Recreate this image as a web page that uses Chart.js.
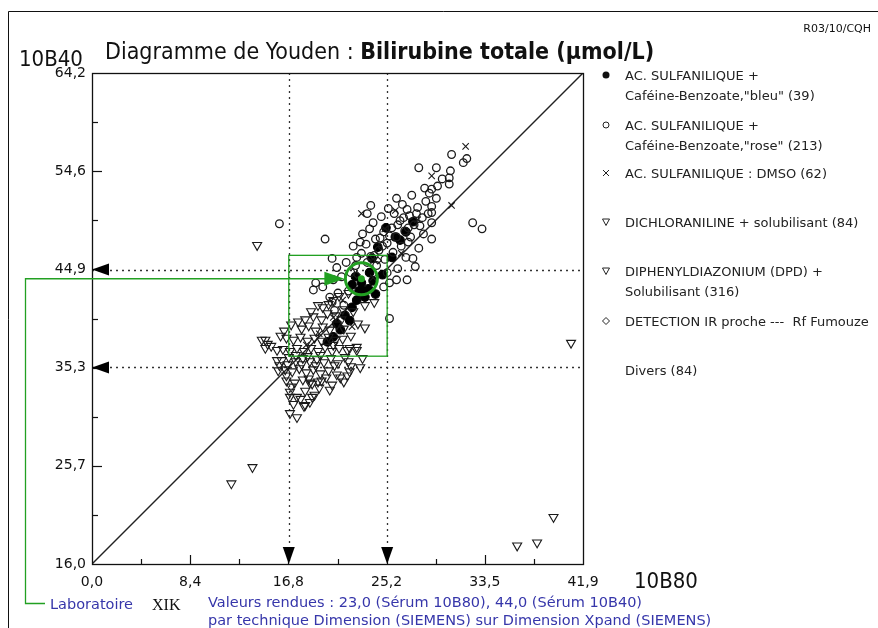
<!DOCTYPE html>
<html>
<head>
<meta charset="utf-8">
<script src="https://cdn.jsdelivr.net/npm/chart.js@4.4.0/dist/chart.umd.min.js"></script>
<style>
  html, body { margin: 0; padding: 0; background: #fff; }
  canvas { display: block; }
</style>
</head>
<body>
<canvas id="youden" width="878" height="628"></canvas>
<script>
// axes
const X_MIN = 0, X_MAX = 41.92, Y_MIN = 16.0, Y_MAX = 64.2;
const xTickLabels = ['0,0', '8,4', '16,8', '25,2', '33,5', '41,9'];
const yTickLabels = ['16,0', '25,7', '35,3', '44,9', '54,6', '64,2'];

// limites (pointillés) et valeurs du laboratoire
const xLimits = [16.8, 25.2];
const yLimits = [35.3, 44.9];
const labValue = [23.0, 44.0];
const labBoxX = [16.8, 25.2];
const labBoxY = [36.4, 46.3];

// AC. SULFANILIQUE + Caféine-Benzoate "bleu"
const bleuPts = [
  [27.4,49.6],[25.9,48.1],[25.6,46.1],[23.9,46.0],[23.7,44.6],[24.4,47.1],[26.3,47.8],
  [26.8,48.6],[24.8,44.4],[23.0,42.9],[22.6,41.9],[22.2,41.2],[21.6,40.4],[21.2,39.0],
  [22.0,39.9],[20.6,38.3],[20.1,37.8],[22.5,44.2],[23.0,43.6],[23.6,43.0],[24.0,43.8],
  [22.8,42.8],[23.3,42.2],[24.2,42.5],[22.2,43.4],[25.1,49.0],[20.9,39.6]
];

// AC. SULFANILIQUE + Caféine-Benzoate "rose"
const rosePts = [
  [16.0,49.4],[19.9,47.9],[20.5,46.0],[19.1,43.6],[18.9,42.9],[19.7,43.2],[25.4,40.1],
  [33.3,48.9],[32.5,49.5],[30.7,56.2],[32.0,55.8],[31.7,55.4],[27.9,54.9],[29.4,54.9],
  [29.9,53.8],[30.6,54.6],[30.5,53.9],[30.5,53.3],[29.0,52.8],[29.0,51.1],[29.0,50.5],
  [28.7,50.4],[29.0,49.5],[29.0,47.9],[27.9,47.0],[27.4,46.0],[26.9,50.8],[25.3,50.9],
  [26.0,51.9],[23.5,50.4],
  [23.0,46.5],[23.4,47.4],[23.8,46.2],[24.2,47.9],[24.5,46.8],[24.9,48.6],[25.2,47.5],
  [25.6,49.0],[26.0,48.1],[26.3,49.7],[26.7,48.7],[27.1,50.2],[27.5,49.3],[27.8,51.0],
  [28.2,50.0],[28.5,51.6],[22.5,45.3],[22.1,44.6],[21.7,45.6],[21.3,44.2],[20.9,45.1],
  [20.6,43.9],[21.9,42.8],[24.3,45.3],[25.0,45.9],[25.7,46.6],[26.4,47.2],[27.0,47.6],
  [25.2,44.6],[26.0,43.9],[26.9,43.9],[25.4,43.6],[26.1,45.0],[26.8,46.1],[21.0,42.6],
  [20.3,42.2],[22.3,47.2],[23.1,48.4],[24.0,49.5],[24.7,50.1],[26.5,51.3],[27.3,52.2],
  [28.8,52.4],[29.5,53.1],[24.9,43.2],[21.5,41.4],[20.7,40.9],[20.5,41.7],[22.6,46.1],
  [24.1,46.3],[28.3,48.4],[27.6,45.2],[23.8,51.2],[29.4,51.9],
  [24.6,48.0],[25.4,48.2],[26.1,49.3],[27.0,49.0],[27.7,50.4],[28.0,49.2],[23.5,45.6],
  [24.8,47.2],[26.6,50.0],[25.8,50.4],[28.4,52.9],[22.9,47.6],[23.7,48.9],[27.2,48.1]
];

// AC. SULFANILIQUE : DMSO
const dmsoPts = [
  [31.9,57.0],[29.0,54.1],[30.7,51.2],[25.9,50.7],[23.0,50.4],[22.2,39.3],[24.0,44.1],
  [26.4,46.5],[21.4,41.9],[27.8,49.8],[19.4,38.6],[20.6,40.2],[25.0,48.9],[18.3,37.5]
];

// DICHLORANILINE + solubilisant
const dichloroPts = [
  [14.1,47.3],[13.7,25.5],[11.9,23.9],[40.9,37.7],[39.4,20.6],[38.0,18.1],[36.3,17.8],
  [14.5,38.0],[14.8,38.0],[14.8,37.2],[15.8,37.0],[15.8,36.0],[15.9,35.0],[16.6,34.5],
  [18.6,33.8],[19.4,33.3],[17.8,32.2],[21.2,34.3],[22.1,35.4],[16.9,30.8],[17.5,30.4],
  [18.2,31.6],[18.8,32.4],[16.9,32.4]
];

// DIPHENYLDIAZONIUM (DPD) + Solubilisant
const dpdPts = [
  [18.9,40.3],[19.6,40.0],[20.1,40.6],[20.8,40.4],[21.3,40.0],
  [17.9,39.1],[18.5,39.4],[19.1,38.9],[19.7,39.3],[20.3,39.0],[20.9,39.5],[21.5,39.1],
  [16.6,38.2],[17.2,38.0],[17.8,38.3],[18.4,37.9],[19.0,38.2],[19.6,37.9],[20.2,38.3],
  [20.8,38.0],[21.4,38.1],[22.1,38.4],
  [16.3,37.1],[16.9,36.9],[17.5,37.2],[18.1,36.9],[18.7,37.2],[19.3,36.9],[19.9,37.3],
  [20.5,36.9],[21.1,37.2],[21.8,37.0],[22.6,37.3],
  [16.2,36.0],[16.8,36.3],[17.4,35.9],[18.0,36.2],[18.6,35.9],[19.2,36.1],[19.8,35.8],
  [20.4,36.2],[21.0,35.7],[21.9,35.9],[23.1,36.2],
  [16.5,35.1],[17.1,34.9],[17.7,35.2],[18.3,34.8],[18.9,35.1],[19.5,34.7],[20.2,35.0],
  [20.9,34.6],[22.0,34.9],[22.9,35.3],
  [16.6,34.0],[17.3,33.8],[18.0,34.1],[18.8,33.7],[19.6,34.0],[20.5,33.6],[21.5,33.9],
  [16.9,32.9],[17.5,32.4],[18.2,33.0],[19.0,32.6],[20.3,33.1],
  [17.2,31.7],[18.1,31.5],[18.6,31.9],
  [15.0,37.6],[15.3,37.4],[16.0,35.5],
  [19.7,41.2],[20.2,41.5],[20.6,41.9],[21.1,42.3],[21.4,41.0],[21.9,42.6],[22.3,40.8],
  [22.7,39.6],[23.3,39.2],[24.1,41.7],[23.3,41.4],[21.8,34.5],[22.6,37.0],[22.0,37.2],
  [17.0,39.5],[17.6,39.8],[18.2,40.0],[18.7,40.8],[19.3,41.4],[16.4,38.9],[16.1,38.4],
  [17.4,36.5],[18.4,36.4],[19.5,36.5],[20.6,37.5],[17.9,35.6],[19.1,35.5],[20.0,34.3],
  [16.7,35.6],[17.0,33.4],[18.5,34.2],[21.6,36.3],[20.7,35.5],[19.3,33.9]
];

// DETECTION IR proche
const irPts = [[22.6,44.4],[24.4,45.8]];

const toXY = pts => pts.map(p => ({ x: p[0], y: p[1] }));
const GREEN = '#22a022';
const BLUE = '#3636aa';

function tri(ctx, a, b, c) {
  ctx.beginPath();
  ctx.moveTo(a[0], a[1]);
  ctx.lineTo(b[0], b[1]);
  ctx.lineTo(c[0], c[1]);
  ctx.closePath();
  ctx.fill();
}

// pointillés sous les points
const guides = {
  id: 'guides',
  beforeDatasetsDraw(chart) {
    const ctx = chart.ctx, a = chart.chartArea;
    const xs = chart.scales.x, ys = chart.scales.y;
    ctx.save();
    ctx.strokeStyle = '#333';
    ctx.lineWidth = 1.3;
    ctx.setLineDash([2, 4]);
    xLimits.forEach(v => {
      const px = Math.round(xs.getPixelForValue(v)) + 0.5;
      ctx.beginPath(); ctx.moveTo(px, a.top); ctx.lineTo(px, a.bottom); ctx.stroke();
    });
    yLimits.forEach(v => {
      const py = Math.round(ys.getPixelForValue(v)) + 0.5;
      ctx.beginPath(); ctx.moveTo(a.left, py); ctx.lineTo(a.right, py); ctx.stroke();
    });
    ctx.restore();
  }
};

function legendMarker(ctx, kind, x, y) {
  ctx.save();
  ctx.strokeStyle = '#222';
  ctx.fillStyle = '#111';
  ctx.lineWidth = 1;
  ctx.beginPath();
  if (kind === 'dot') { ctx.arc(x, y, 3.5, 0, Math.PI * 2); ctx.fill(); }
  else if (kind === 'ring') { ctx.arc(x, y, 3, 0, Math.PI * 2); ctx.stroke(); }
  else if (kind === 'cross') { ctx.moveTo(x - 3, y - 3); ctx.lineTo(x + 3, y + 3); ctx.moveTo(x + 3, y - 3); ctx.lineTo(x - 3, y + 3); ctx.stroke(); }
  else if (kind === 'tri') { ctx.moveTo(x - 3.5, y - 3); ctx.lineTo(x + 3.5, y - 3); ctx.lineTo(x, y + 3.5); ctx.closePath(); ctx.stroke(); }
  else if (kind === 'diamond') { ctx.moveTo(x, y - 3.5); ctx.lineTo(x + 3.5, y); ctx.lineTo(x, y + 3.5); ctx.lineTo(x - 3.5, y); ctx.closePath(); ctx.stroke(); }
  ctx.restore();
}

const decor = {
  id: 'decor',
  afterDraw(chart) {
    const ctx = chart.ctx, a = chart.chartArea;
    const xs = chart.scales.x, ys = chart.scales.y;
    ctx.save();

    // cadre de la page
    ctx.strokeStyle = '#111';
    ctx.lineWidth = 1;
    ctx.beginPath();
    ctx.moveTo(8.5, 628); ctx.lineTo(8.5, 11.5); ctx.lineTo(878, 11.5);
    ctx.stroke();

    // cadre du graphe
    ctx.lineWidth = 1.3;
    ctx.strokeRect(Math.round(a.left) + 0.5, Math.round(a.top) + 0.5,
      Math.round(a.right - a.left), Math.round(a.bottom - a.top));

    // graduations intérieures
    ctx.lineWidth = 1.2;
    for (let i = 1; i < 10; i++) {
      const len = i % 2 === 0 ? 9 : 5;
      const px = Math.round(xs.getPixelForValue(X_MIN + i * (X_MAX - X_MIN) / 10)) + 0.5;
      ctx.beginPath(); ctx.moveTo(px, a.bottom); ctx.lineTo(px, a.bottom - len); ctx.stroke();
      const py = Math.round(ys.getPixelForValue(Y_MIN + i * (Y_MAX - Y_MIN) / 10)) + 0.5;
      ctx.beginPath(); ctx.moveTo(a.left, py); ctx.lineTo(a.left + len + 1, py); ctx.stroke();
    }

    // flèches noires des limites
    ctx.fillStyle = '#000';
    xLimits.forEach(v => {
      const px = xs.getPixelForValue(v);
      tri(ctx, [px, a.bottom], [px - 6, a.bottom - 17], [px + 6, a.bottom - 17]);
    });
    yLimits.forEach(v => {
      const py = ys.getPixelForValue(v);
      tri(ctx, [a.left, py], [a.left + 17, py - 6], [a.left + 17, py + 6]);
    });

    // zone et résultat du laboratoire (vert)
    const lx = xs.getPixelForValue(labValue[0]);
    const ly = ys.getPixelForValue(labValue[1]);
    const bx0 = xs.getPixelForValue(labBoxX[0]), bx1 = xs.getPixelForValue(labBoxX[1]);
    const by0 = ys.getPixelForValue(labBoxY[1]), by1 = ys.getPixelForValue(labBoxY[0]);
    ctx.strokeStyle = GREEN;
    ctx.fillStyle = GREEN;
    ctx.lineWidth = 1.3;
    ctx.strokeRect(bx0, by0, bx1 - bx0, by1 - by0);
    ctx.beginPath();
    ctx.moveTo(45, 603.5); ctx.lineTo(25.5, 603.5); ctx.lineTo(25.5, ly); ctx.lineTo(lx - 30, ly);
    ctx.stroke();
    tri(ctx, [lx - 17, ly], [lx - 37, ly - 7], [lx - 37, ly + 7]);
    ctx.lineWidth = 3;
    ctx.beginPath(); ctx.arc(lx, ly, 16, 0, Math.PI * 2); ctx.stroke();
    ctx.beginPath(); ctx.arc(lx, ly, 3.5, 0, Math.PI * 2); ctx.fill();

    // textes
    ctx.fillStyle = '#111';
    ctx.textBaseline = 'alphabetic';
    ctx.font = '11px "DejaVu Sans"';
    ctx.textAlign = 'right';
    ctx.fillText('R03/10/CQH', 871, 32);
    ctx.textAlign = 'left';
    ctx.font = '22px "DejaVu Sans Condensed"';
    ctx.fillText('10B40', 19, 66);
    ctx.fillText('10B80', 634, 588);
    ctx.font = '23px "DejaVu Sans Condensed"';
    const t1 = 'Diagramme de Youden : ';
    ctx.fillText(t1, 105, 59);
    const w1 = ctx.measureText(t1).width;
    ctx.font = 'bold 23px "DejaVu Sans Condensed"';
    ctx.fillText('Bilirubine totale (µmol/L)', 105 + w1, 59);

    // légende
    ctx.font = '13px "DejaVu Sans"';
    ctx.fillStyle = '#222';
    const leg = [
      ['dot', 75, ['AC. SULFANILIQUE +', 'Caféine-Benzoate,"bleu" (39)']],
      ['ring', 125, ['AC. SULFANILIQUE +', 'Caféine-Benzoate,"rose" (213)']],
      ['cross', 173, ['AC. SULFANILIQUE : DMSO (62)']],
      ['tri', 222, ['DICHLORANILINE + solubilisant (84)']],
      ['tri', 271, ['DIPHENYLDIAZONIUM (DPD) +', 'Solubilisant (316)']],
      ['diamond', 321, ['DETECTION IR proche ---  Rf Fumouze']],
      [null, 370, ['Divers (84)']]
    ];
    leg.forEach(([kind, y, lines]) => {
      if (kind) legendMarker(ctx, kind, 606, y);
      lines.forEach((s, i) => ctx.fillText(s, 625, y + 4.5 + i * 20));
    });

    // bas de page
    ctx.fillStyle = BLUE;
    ctx.font = '14.5px "DejaVu Sans"';
    ctx.fillText('Laboratoire', 50, 609);
    ctx.fillText('Valeurs rendues : 23,0 (Sérum 10B80), 44,0 (Sérum 10B40)', 208, 607);
    ctx.fillText('par technique Dimension (SIEMENS) sur Dimension Xpand (SIEMENS)', 208, 625);
    ctx.fillStyle = '#111';
    ctx.font = '16px "Liberation Serif"';
    ctx.fillText('XIK', 152, 610);

    ctx.restore();
  }
};

const scatterSet = (label, pts, extra) => Object.assign({
  type: 'scatter',
  label: label,
  data: toXY(pts),
  borderColor: '#1a1a1a',
  backgroundColor: 'rgba(0,0,0,0)',
  borderWidth: 1.1,
  pointRadius: 4,
  order: 1
}, extra);

new Chart(document.getElementById('youden'), {
  data: {
    datasets: [
      {
        type: 'line',
        label: 'diagonale',
        data: [{ x: X_MIN, y: Y_MIN }, { x: X_MAX, y: Y_MAX }],
        borderColor: '#222',
        borderWidth: 1.4,
        pointRadius: 0,
        order: 10
      },
      scatterSet('DICHLORANILINE + solubilisant (84)', dichloroPts,
        { pointStyle: 'triangle', rotation: 180, pointRadius: 5.2 }),
      scatterSet('DIPHENYLDIAZONIUM (DPD) + Solubilisant (316)', dpdPts,
        { pointStyle: 'triangle', rotation: 180, pointRadius: 5.2 }),
      scatterSet('AC. SULFANILIQUE + Caféine-Benzoate,"rose" (213)', rosePts,
        { pointStyle: 'circle', pointRadius: 3.8, borderWidth: 1.3 }),
      scatterSet('AC. SULFANILIQUE : DMSO (62)', dmsoPts,
        { pointStyle: 'crossRot', pointRadius: 4.5 }),
      scatterSet('DETECTION IR proche --- Rf Fumouze', irPts,
        { pointStyle: 'rectRot', pointRadius: 3.5 }),
      scatterSet('AC. SULFANILIQUE + Caféine-Benzoate,"bleu" (39)', bleuPts,
        { pointStyle: 'circle', pointRadius: 4.3, backgroundColor: '#000', borderColor: '#000' })
    ]
  },
  options: {
    responsive: false,
    devicePixelRatio: 1,
    animation: false,
    layout: { padding: { left: 0, top: 73, right: 295, bottom: 34 } },
    plugins: { legend: { display: false }, tooltip: { enabled: false } },
    scales: {
      x: {
        type: 'linear',
        min: X_MIN,
        max: X_MAX,
        grid: { display: false, drawTicks: false },
        border: { display: false },
        afterBuildTicks: s => { s.ticks = xTickLabels.map((l, i) => ({ value: X_MIN + i * (X_MAX - X_MIN) / 5 })); },
        afterFit: s => { s.height = 30; },
        ticks: {
          autoSkip: false, maxRotation: 0, padding: 10, color: '#111',
          font: { family: 'DejaVu Sans', size: 14 },
          callback: (v, i) => xTickLabels[i]
        }
      },
      y: {
        type: 'linear',
        min: Y_MIN,
        max: Y_MAX,
        grid: { display: false, drawTicks: false },
        border: { display: false },
        afterBuildTicks: s => { s.ticks = yTickLabels.map((l, i) => ({ value: Y_MIN + i * (Y_MAX - Y_MIN) / 5 })); },
        afterFit: s => { s.width = 92; },
        ticks: {
          autoSkip: false, padding: 6, color: '#111',
          font: { family: 'DejaVu Sans', size: 14 },
          callback: (v, i) => yTickLabels[i]
        }
      }
    }
  },
  plugins: [guides, decor]
});
</script>
</body>
</html>
